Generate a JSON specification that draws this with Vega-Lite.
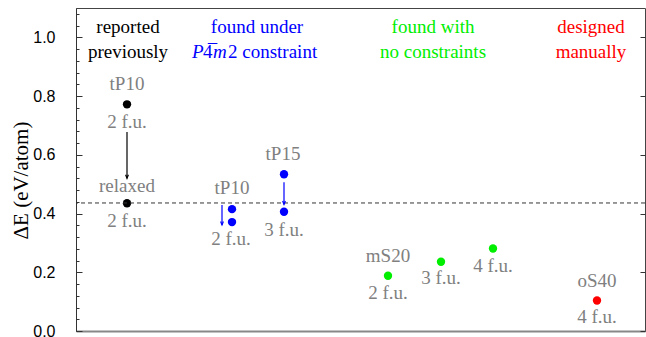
{
  "$schema": "https://vega.github.io/schema/vega-lite/v6.json",
  "autosize": "none",
  "width": 569,
  "height": 323,
  "padding": {"left": 76, "top": 8, "right": 1, "bottom": 6},
  "background": "white",
  "config": {"view": {"stroke": "#444", "strokeWidth": 1}},
  "datasets": {
    "points": [
      {"x": 51, "E": 0.772, "g": "reported"},
      {"x": 51, "E": 0.435, "g": "reported"},
      {"x": 156, "E": 0.415, "g": "p4m2"},
      {"x": 156, "E": 0.371, "g": "p4m2"},
      {"x": 208, "E": 0.534, "g": "p4m2"},
      {"x": 208, "E": 0.406, "g": "p4m2"},
      {"x": 312, "E": 0.188, "g": "free"},
      {"x": 365, "E": 0.236, "g": "free"},
      {"x": 417, "E": 0.281, "g": "free"},
      {"x": 521, "E": 0.104, "g": "manual"}
    ],
    "arrows": [
      {"x": 51, "from": 0.678, "to": 0.52, "g": "reported"},
      {"x": 146, "from": 0.429, "to": 0.361, "g": "p4m2"},
      {"x": 208, "from": 0.507, "to": 0.431, "g": "p4m2"}
    ],
    "labels": [
      {"x": 51, "E": 0.84, "t": "tP10"},
      {"x": 51, "E": 0.711, "t": "2 f.u."},
      {"x": 51, "E": 0.493, "t": "relaxed"},
      {"x": 51, "E": 0.374, "t": "2 f.u."},
      {"x": 156, "E": 0.486, "t": "tP10"},
      {"x": 155, "E": 0.313, "t": "2 f.u."},
      {"x": 207, "E": 0.602, "t": "tP15"},
      {"x": 208, "E": 0.344, "t": "3 f.u."},
      {"x": 312, "E": 0.255, "t": "mS20"},
      {"x": 312, "E": 0.129, "t": "2 f.u."},
      {"x": 365, "E": 0.18, "t": "3 f.u."},
      {"x": 417, "E": 0.221, "t": "4 f.u."},
      {"x": 521, "E": 0.17, "t": "oS40"},
      {"x": 521, "E": 0.048, "t": "4 f.u."}
    ],
    "headers": [
      {"x": 52, "E": 1.034, "t": "reported", "g": "reported"},
      {"x": 52, "E": 0.949, "t": "previously", "g": "reported"},
      {"x": 181, "E": 1.034, "t": "found under", "g": "p4m2"},
      {"x": 357, "E": 1.034, "t": "found with", "g": "free"},
      {"x": 357, "E": 0.949, "t": "no constraints", "g": "free"},
      {"x": 515, "E": 1.034, "t": "designed", "g": "manual"},
      {"x": 515, "E": 0.949, "t": "manually", "g": "manual"}
    ],
    "italicParts": [
      {"x": 116, "E": 0.949, "t": "P"},
      {"x": 137, "E": 0.949, "t": "m"}
    ],
    "uprightParts": [
      {"x": 127, "E": 0.949, "t": "4\u0305"},
      {"x": 152, "E": 0.949, "t": "2 constraint"}
    ]
  },
  "resolve": {"axis": {"y": "independent"}},
  "layer": [
    {
      "data": {"name": "points"},
      "mark": {"type": "point", "filled": true, "opacity": 1, "shape": "circle", "size": 70},
      "encoding": {
        "x": {"field": "x", "type": "quantitative", "scale": {"domain": [0, 569], "nice": false, "zero": false},
          "axis": {"orient": "bottom", "labels": false, "ticks": false, "title": null, "grid": false, "domainColor": "#888", "domainWidth": 2}},
        "y": {"field": "E", "type": "quantitative", "scale": {"domain": [0, 1.1], "nice": false, "zero": false},
          "axis": {
            "orient": "left",
            "grid": false,
            "values": [0, 0.04, 0.08, 0.12, 0.16, 0.2, 0.24, 0.28, 0.32, 0.36, 0.4, 0.44, 0.48, 0.52, 0.56, 0.6, 0.64, 0.68, 0.72, 0.76, 0.8, 0.84, 0.88, 0.92, 0.96, 1.0, 1.04, 1.08],
            "labelExpr": "abs(datum.value*5 - round(datum.value*5)) < 0.01 ? format(datum.value, '.1f') : ''",
            "tickSize": {"condition": {"test": "abs(datum.value*5 - round(datum.value*5)) < 0.01", "value": -6}, "value": -3},
            "tickColor": "#333",
            "domainColor": "#333",
            "labelFont": "Liberation Sans",
            "labelFontSize": 16,
            "labelColor": "black",
            "labelPadding": 27,
            "labelFlush": false,
            "labelOverlap": false,
            "title": "ΔE (eV/atom)",
            "titleFont": "Liberation Serif",
            "titleFontSize": 21,
            "titleFontWeight": "normal",
            "titleColor": "black",
            "titleAngle": -90,
            "titleAlign": "center",
            "titleBaseline": "middle",
            "titleX": -55,
            "titleY": 172
          }},
        "color": {"field": "g", "type": "nominal", "scale": {"domain": ["reported", "p4m2", "free", "manual"], "range": ["#000000", "#0000ff", "#00ee00", "#ff0000"]}, "legend": null}
      }
    },
    {
      "data": {"values": [{"E": 0.436}]},
      "mark": {"type": "rule", "color": "#333", "strokeDash": [4, 3], "strokeWidth": 1},
      "encoding": {
        "y": {"field": "E", "type": "quantitative",
          "axis": {"orient": "right", "values": [0, 0.2, 0.4, 0.6, 0.8, 1.0], "labels": false, "title": null, "grid": false, "tickSize": -5, "tickColor": "#333", "domain": false}}
      }
    },
    {
      "data": {"name": "arrows"},
      "mark": {"type": "rule", "strokeWidth": 1.2},
      "encoding": {
        "x": {"field": "x", "type": "quantitative"},
        "y": {"field": "from", "type": "quantitative", "axis": null},
        "y2": {"field": "to"},
        "color": {"field": "g", "type": "nominal", "legend": null}
      }
    },
    {
      "data": {"name": "arrows"},
      "mark": {"type": "point", "shape": "M-0.8,-2L0,0L0.8,-2", "filled": false, "size": 12, "strokeWidth": 1.2, "opacity": 1},
      "encoding": {
        "x": {"field": "x", "type": "quantitative"},
        "y": {"field": "to", "type": "quantitative", "axis": null},
        "color": {"field": "g", "type": "nominal", "legend": null}
      }
    },
    {
      "data": {"name": "labels"},
      "mark": {"type": "text", "font": "Liberation Serif", "fontSize": 19, "color": "#808080", "align": "center", "baseline": "middle"},
      "encoding": {
        "x": {"field": "x", "type": "quantitative"},
        "y": {"field": "E", "type": "quantitative", "axis": null},
        "text": {"field": "t"}
      }
    },
    {
      "data": {"name": "headers"},
      "mark": {"type": "text", "font": "Liberation Serif", "fontSize": 19, "align": "center", "baseline": "middle"},
      "encoding": {
        "x": {"field": "x", "type": "quantitative"},
        "y": {"field": "E", "type": "quantitative", "axis": null},
        "text": {"field": "t"},
        "color": {"field": "g", "type": "nominal", "legend": null}
      }
    },
    {
      "data": {"name": "italicParts"},
      "mark": {"type": "text", "font": "Liberation Serif", "fontSize": 19, "fontStyle": "italic", "color": "#0000ff", "align": "left", "baseline": "middle"},
      "encoding": {
        "x": {"field": "x", "type": "quantitative"},
        "y": {"field": "E", "type": "quantitative", "axis": null},
        "text": {"field": "t"}
      }
    },
    {
      "data": {"name": "uprightParts"},
      "mark": {"type": "text", "font": "Liberation Serif", "fontSize": 19, "color": "#0000ff", "align": "left", "baseline": "middle"},
      "encoding": {
        "x": {"field": "x", "type": "quantitative"},
        "y": {"field": "E", "type": "quantitative", "axis": null},
        "text": {"field": "t"}
      }
    }
  ]
}
